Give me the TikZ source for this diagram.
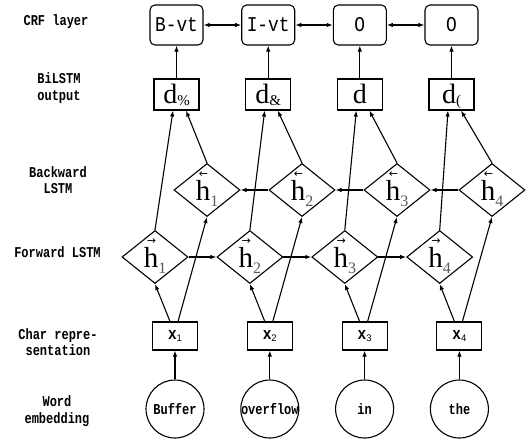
\documentclass[tikz,border=0pt]{standalone}
\usepackage{fontspec}
\setmainfont{Liberation Serif}
\newfontfamily\labfont[FakeStretch=0.8]{Liberation Mono}
\newfontfamily\tagfont[FakeStretch=0.85]{Liberation Mono}
\newfontfamily\arrfont{DejaVu Sans}
\newfontfamily\subfont{Liberation Sans}
\usetikzlibrary{arrows.meta,shapes.geometric}
\definecolor{subgray}{gray}{0.35}
\newcommand\hlab[2]{\raisebox{-10pt}[0pt][0pt]{\makebox[0pt]{\makebox[0pt][l]{\raisebox{23pt}{\kern3pt\fontsize{11}{11}\arrfont #1}}\fontsize{29}{29}\selectfont h\raisebox{-6pt}{\fontsize{16}{16}\selectfont\color{subgray}#2}}}}
\newcommand\xlab[1]{{\fontsize{17}{17}\tagfont\bfseries x}\raisebox{-2pt}{\fontsize{9.5}{9.5}\subfont #1}}
\newcommand\dlab[1]{\raisebox{-9pt}[0pt][0pt]{\makebox[0pt]{{\fontsize{28}{28}\selectfont d}\raisebox{-2pt}{\fontsize{15}{15}\selectfont #1}}}}
\begin{document}
\begin{tikzpicture}[x=1pt,y=-1pt,
  line width=1.1pt,
  >={Latex[length=6pt,width=4.5pt]},
  sidelab/.style={font=\fontsize{15}{16.5}\labfont\bfseries, align=center, inner sep=0pt},
  crfbox/.style={draw, rounded corners=5pt, minimum width=53pt, minimum height=40pt, inner sep=0pt, font=\fontsize{21}{21}\tagfont},
  outbox/.style={draw, minimum width=45pt, minimum height=31pt, inner sep=0pt},
  hdia/.style={draw, diamond, minimum width=66pt, minimum height=53pt, inner sep=0pt},
  charbox/.style={draw, minimum width=45pt, minimum height=28pt, inner sep=0pt},
  wordcirc/.style={draw, circle, minimum size=58pt, inner sep=0pt, font=\fontsize{15}{15}\labfont\bfseries},
  conn/.style={->}
]
\useasboundingbox (0,0) rectangle (526,440);

% side labels
\node[sidelab] (l1) at (56,22) {CRF layer};
\node[sidelab] (l2) at (59,88) {BiLSTM\\output};
\node[sidelab] (l3) at (58,180) {Backward\\LSTM};
\node[sidelab] (l4) at (57.5,252) {Forward LSTM};
\node[sidelab] (l5) at (58,342) {Char repre-\\sentation};
\node[sidelab] (l6) at (57,411) {Word\\embedding};

% CRF layer
\node[crfbox] (r1) at (176.5,25) {B-vt};
\node[crfbox] (r2) at (268.2,25) {I-vt};
\node[crfbox] (r3) at (359.8,25) {O};
\node[crfbox] (r4) at (451.5,25) {O};

% BiLSTM output
\node[outbox] (o1) at (176.5,94.5) {\dlab{\%}};
\node[outbox] (o2) at (268.2,94.5) {\dlab{\&}};
\node[outbox] (o3) at (359.8,94.5) {\dlab{}};
\node[outbox] (o4) at (451.5,94.5) {\dlab{(}};

% backward LSTM
\node[hdia] (b1) at (207,190) {\hlab{←}{1}};
\node[hdia] (b2) at (302,190) {\hlab{←}{2}};
\node[hdia] (b3) at (397,190) {\hlab{←}{3}};
\node[hdia] (b4) at (492,190) {\hlab{←}{4}};

% forward LSTM
\node[hdia] (f1) at (155,257) {\hlab{→}{1}};
\node[hdia] (f2) at (249.9,257) {\hlab{→}{2}};
\node[hdia] (f3) at (344.8,257) {\hlab{→}{3}};
\node[hdia] (f4) at (439.7,257) {\hlab{→}{4}};

% char representation
\node[charbox] (x1) at (175,336) {\xlab{1}};
\node[charbox] (x2) at (269.8,336) {\xlab{2}};
\node[charbox] (x3) at (364.6,336) {\xlab{3}};
\node[charbox] (x4) at (459.4,336) {\xlab{4}};

% word embedding
\node[wordcirc] (w1) at (175,409) {\makebox[0pt]{Buffer}};
\node[wordcirc] (w2) at (269.8,409) {\makebox[0pt]{overflow}};
\node[wordcirc] (w3) at (364.6,409) {\makebox[0pt]{in}};
\node[wordcirc] (w4) at (459.4,409) {\makebox[0pt]{the}};

% connectors
\foreach \i in {1,2,3,4}{
  \draw[conn] (w\i.north) -- (x\i.south);
  \draw[conn] ([xshift=-5pt]x\i.north) -- (f\i.south);
  \draw[conn] ([xshift=3pt]x\i.north) -- (b\i.south);
  \draw[conn] (f\i.north) -- ([xshift=-3.5pt]o\i.south);
  \draw[conn] (b\i.north) -- ([xshift=9.5pt]o\i.south);
  \draw[conn] (o\i.north) -- (r\i.south);
}
\foreach \i/\j in {1/2,2/3,3/4}{
  \draw[conn] (f\i.east) -- (f\j.west);
  \draw[conn] (b\j.west) -- (b\i.east);
  \draw[<->] (r\i.east) -- (r\j.west);
}
\end{tikzpicture}
\end{document}
